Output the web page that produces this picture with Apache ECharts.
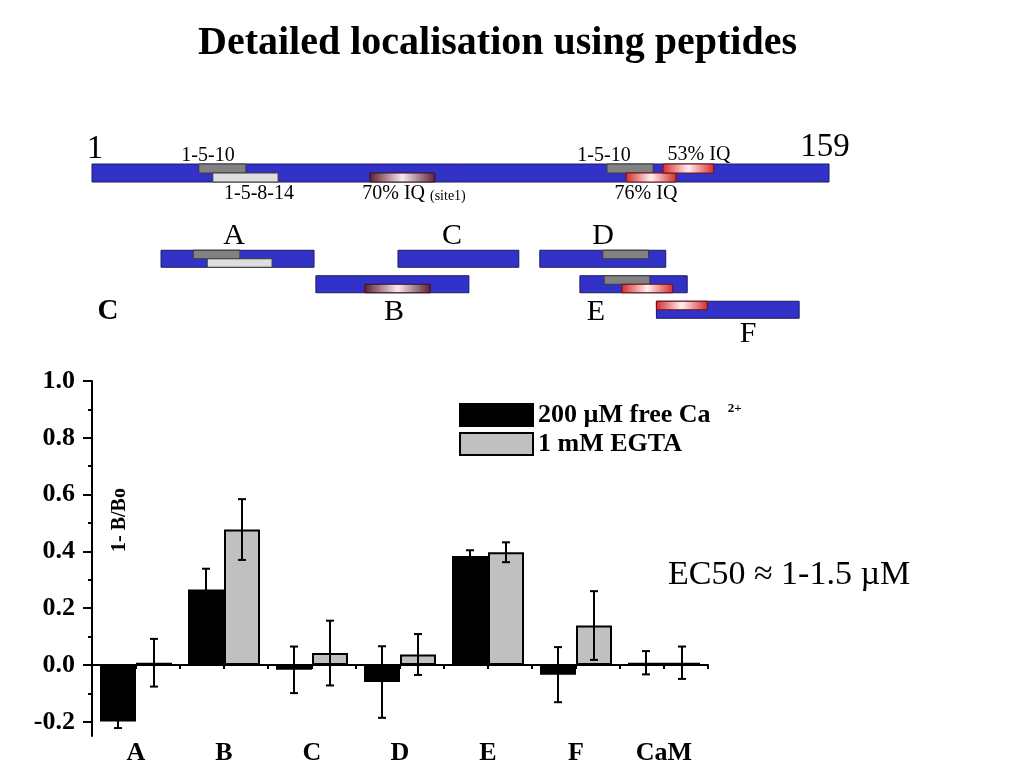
<!DOCTYPE html>
<html>
<head>
<meta charset="utf-8">
<script src="https://cdn.jsdelivr.net/npm/echarts@6/dist/echarts.min.js"></script>
<style>html,body{margin:0;padding:0;background:#fff}#c{width:1024px;height:768px}</style>
</head>
<body>
<div id="c"></div>
<script>
// ---------- data ----------
const categories = ['A', 'B', 'C', 'D', 'E', 'F', 'CaM'];
const caValues   = [-0.199, 0.266, -0.017, -0.060, 0.384, -0.034, 0.008];
const caErrors   = [0.023, 0.073, 0.082, 0.126, 0.020, 0.097, 0.041];
const egtaValues = [0.008, 0.477, 0.042, 0.037, 0.397, 0.139, 0.008];
const egtaErrors = [0.084, 0.107, 0.114, 0.072, 0.035, 0.121, 0.057];
const yLabelTicks = [-0.2, 0.0, 0.2, 0.4, 0.6, 0.8, 1.0];
const yMinorTicks = [-0.1, 0.1, 0.3, 0.5, 0.7, 0.9];

// protein map (residues 1..159)
const proteinLength = [1, 159];
// [label, start, end, lane, kind]
const proteinSites = [
  ['1-5-10',   23.9, 34.0, 'top',    'gray'],
  ['1-5-8-14', 26.9, 40.9, 'bottom', 'light'],
  ['70% IQ',   60.6, 74.5, 'bottom', 'iq70'],
  ['1-5-10',  111.4, 121.3, 'top',   'gray'],
  ['76% IQ',  115.5, 126.2, 'bottom', 'red'],
  ['53% IQ',  123.4, 134.3, 'top',   'red']
];
// peptides: [name, start, end, row]
const peptides = [
  ['A', 15.8, 48.6, 0],
  ['C', 66.6, 92.5, 0],
  ['D', 97.0, 124.0, 0],
  ['B', 49.0, 81.8, 1],
  ['E', 105.6, 128.6, 1],
  ['F', 122.0, 152.6, 2]
];
// peptide sites: [peptide, start, end, row, lane, kind]
const peptideSites = [
  ['A', 22.7, 32.7, 0, 'top',    'gray'],
  ['A', 25.7, 39.6, 0, 'bottom', 'light'],
  ['D', 110.5, 120.3, 0, 'top',  'gray'],
  ['B', 59.5, 73.5, 1, 'bottom', 'iq70'],
  ['E', 110.8, 120.6, 1, 'top',  'gray'],
  ['E', 114.6, 125.5, 1, 'bottom', 'red'],
  ['F', 122.0, 132.9, 2, 'top',  'red']
];

// ---------- styles ----------
const SERIF = '"Liberation Serif", "Times New Roman", serif';
function grad(edge, mid) {
  return new echarts.graphic.LinearGradient(0, 0, 1, 0, [
    {offset: 0, color: edge}, {offset: 0.5, color: mid}, {offset: 1, color: edge}
  ]);
}
const kindStyle = {
  blue:  {fill: '#3232c8', stroke: '#1c1c5a'},
  gray:  {fill: '#828282', stroke: '#3a3a3a'},
  light: {fill: '#dedede', stroke: '#3a3a3a'},
  iq70:  {fill: grad('#5e1e30', '#f6eaee'), stroke: '#3a1020'},
  red:   {fill: grad('#d42a2a', '#fff0f0'), stroke: '#701010'}
};

function laneOf(params) {
  if (params.seriesName === 'sites') return proteinSites[params.dataIndex][3];
  if (params.seriesName === 'pepsite') return peptideSites[params.dataIndex][4];
  return 'full';
}
function kindOf(params) {
  if (params.seriesName === 'sites') return proteinSites[params.dataIndex][4];
  if (params.seriesName === 'pepsite') return peptideSites[params.dataIndex][5];
  return 'blue';
}
function segRender(params, api) {
  const s = api.value(0), e = api.value(1), row = api.value(2);
  const lane = laneOf(params);
  const p0 = api.coord([s, row]);
  const p1 = api.coord([e, row]);
  const band = api.size([0, 1])[1];
  const isPep = params.seriesName === 'peptide' || params.seriesName === 'pepsite';
  const h = band * (isPep ? 0.667 : 1);
  let y0 = p0[1] - h / 2, y1 = p0[1] + h / 2;
  if (lane === 'top') y1 = p0[1];
  if (lane === 'bottom') y0 = p0[1];
  const st = kindStyle[kindOf(params)];
  return {
    type: 'rect',
    shape: {x: p0[0], y: y0, width: p1[0] - p0[0], height: y1 - y0},
    style: {fill: st.fill, stroke: st.stroke, lineWidth: 1}
  };
}

function errRender(offset) {
  return function (params, api) {
    const i = api.value(0), v = api.value(1), e = api.value(2);
    const top = api.coord([i, v + e]);
    const bot = api.coord([i, v - e]);
    const x = top[0] + offset;
    const cap = 4;
    const st = {stroke: '#000', lineWidth: 2};
    return {
      type: 'group',
      children: [
        {type: 'line', shape: {x1: x, y1: top[1], x2: x, y2: bot[1]}, style: st},
        {type: 'line', shape: {x1: x - cap, y1: top[1], x2: x + cap, y2: top[1]}, style: st},
        {type: 'line', shape: {x1: x - cap, y1: bot[1], x2: x + cap, y2: bot[1]}, style: st}
      ]
    };
  };
}

const caName = '200 µM free Ca2+';
const egtaName = '1 mM EGTA';

function txt(x, y, text, size, bold) {
  return {type: 'text', x: x, y: y, style: {
    text: text, font: (bold ? 'bold ' : '') + size + 'px ' + SERIF,
    fill: '#000', align: 'center', verticalAlign: 'middle'
  }};
}

const option = {
  backgroundColor: '#fff',
  animation: false,
  title: {
    text: 'Detailed localisation using peptides',
    left: 198, top: 24, padding: 0,
    textStyle: {fontFamily: SERIF, fontWeight: 'bold', fontSize: 40, color: '#000'}
  },
  legend: {
    left: 459, top: 402, orient: 'vertical', padding: 0,
    itemWidth: 73, itemHeight: 22, itemGap: 3,
    icon: 'rect',
    data: [caName, egtaName],
    formatter: function (name) {
      return name === caName ? '{m|200 µM free Ca}{s| 2+}' : '{m|' + name + '}';
    },
    textStyle: {
      fontFamily: SERIF, fontWeight: 'bold', fontSize: 26, color: '#000',
      rich: {
        m: {fontFamily: SERIF, fontWeight: 'bold', fontSize: 26, color: '#000', lineHeight: 26},
        s: {fontFamily: SERIF, fontWeight: 'bold', fontSize: 13, color: '#000', verticalAlign: 'top', lineHeight: 26, padding: [0, 0, 2, 14]}
      }
    }
  },
  grid: [
    {left: 92, right: 316, top: 381, bottom: 32},
    {left: 92, right: 195, top: 164, height: 18},
    {left: 92, right: 195, top: 246, height: 76.5}
  ],
  xAxis: [
    {
      type: 'category', gridIndex: 0, data: categories, position: 'bottom',
      axisLine: {show: false, onZero: false}, axisTick: {show: false},
      axisLabel: {margin: 4, fontFamily: SERIF, fontWeight: 'bold', fontSize: 26, color: '#000', interval: 0}
    },
    {
      type: 'category', gridIndex: 0, position: 'bottom',
      data: categories.flatMap(c => [c + '-1', c + '-2']),
      axisLine: {show: true, onZero: true, onZeroAxisIndex: 0, lineStyle: {color: '#000', width: 2}},
      axisTick: {show: true, interval: 0, length: 4, lineStyle: {color: '#000', width: 2}},
      axisLabel: {show: false}, splitLine: {show: false}
    },
    {type: 'value', gridIndex: 1, min: proteinLength[0], max: proteinLength[1], show: false},
    {type: 'value', gridIndex: 2, min: proteinLength[0], max: proteinLength[1], show: false}
  ],
  yAxis: [
    {
      type: 'value', gridIndex: 0, min: -0.25, max: 1.0,
      axisLine: {show: true, lineStyle: {color: '#000', width: 2}},
      axisTick: {show: true, length: 9, customValues: yLabelTicks, lineStyle: {color: '#000', width: 2}},
      axisLabel: {
        customValues: yLabelTicks, margin: 17,
        formatter: v => v.toFixed(1),
        fontFamily: SERIF, fontWeight: 'bold', fontSize: 26, color: '#000'
      },
      splitLine: {show: false}
    },
    {
      type: 'value', gridIndex: 0, min: -0.25, max: 1.0, position: 'left',
      axisLine: {show: false},
      axisTick: {show: true, length: 4, customValues: yMinorTicks, lineStyle: {color: '#000', width: 2}},
      axisLabel: {show: false}, splitLine: {show: false}
    },
    {type: 'category', gridIndex: 1, data: ['protein'], show: false},
    {type: 'category', gridIndex: 2, data: ['row1', 'row2', 'row3'], inverse: true, show: false}
  ],
  series: [
    {
      name: caName, type: 'bar', xAxisIndex: 0, yAxisIndex: 0,
      data: caValues, barWidth: 36, barGap: '0%',
      itemStyle: {color: '#000', borderColor: '#000', borderWidth: 2}
    },
    {
      name: egtaName, type: 'bar', xAxisIndex: 0, yAxisIndex: 0,
      data: egtaValues, barWidth: 36, barGap: '0%',
      itemStyle: {color: '#c0c0c0', borderColor: '#000', borderWidth: 2}
    },
    {
      name: 'errCa', type: 'custom', xAxisIndex: 0, yAxisIndex: 0, z: 5,
      renderItem: errRender(-18),
      data: caValues.map((v, i) => [i, v, caErrors[i]])
    },
    {
      name: 'errEgta', type: 'custom', xAxisIndex: 0, yAxisIndex: 0, z: 5,
      renderItem: errRender(18),
      data: egtaValues.map((v, i) => [i, v, egtaErrors[i]])
    },
    {
      name: 'protein', type: 'custom', xAxisIndex: 2, yAxisIndex: 2,
      renderItem: segRender, encode: {x: [0, 1], y: 2},
      data: [[proteinLength[0], proteinLength[1], 0]]
    },
    {
      name: 'sites', type: 'custom', xAxisIndex: 2, yAxisIndex: 2, z: 3,
      renderItem: segRender, encode: {x: [0, 1], y: 2},
      data: proteinSites.map(d => [d[1], d[2], 0])
    },
    {
      name: 'peptide', type: 'custom', xAxisIndex: 3, yAxisIndex: 3,
      renderItem: segRender, encode: {x: [0, 1], y: 2},
      data: peptides.map(d => [d[1], d[2], d[3]])
    },
    {
      name: 'pepsite', type: 'custom', xAxisIndex: 3, yAxisIndex: 3, z: 3,
      renderItem: segRender, encode: {x: [0, 1], y: 2},
      data: peptideSites.map(d => [d[1], d[2], d[3]])
    }
  ],
  graphic: [
    txt(95, 149, '1', 33),
    txt(825, 147, '159', 33),
    txt(208, 156, '1-5-10', 20),
    txt(259, 194, '1-5-8-14', 20),
    {type: 'text', x: 414, y: 194, style: {
      text: '{a|70% IQ }{b|(site1)}', align: 'center', verticalAlign: 'middle',
      rich: {a: {fontFamily: SERIF, fontSize: 20, fill: '#000'}, b: {fontFamily: SERIF, fontSize: 14, fill: '#000', padding: [4, 0, 0, 0]}}
    }},
    txt(604, 156, '1-5-10', 20),
    txt(699, 155, '53% IQ', 20),
    txt(646, 194, '76% IQ', 20),
    txt(234, 236, 'A', 30),
    txt(452, 236, 'C', 30),
    txt(603, 236, 'D', 30),
    txt(394, 312, 'B', 30),
    txt(596, 312, 'E', 30),
    txt(748, 334, 'F', 30),
    txt(108, 312, 'C', 29, true),
    {type: 'text', x: 668, y: 575, style: {text: 'EC50 ≈ 1-1.5 µM', font: '34px ' + SERIF, fill: '#000', align: 'left', verticalAlign: 'middle'}},
    {type: 'text', x: 120, y: 520, rotation: Math.PI / 2, style: {text: '1- B/Bo', font: 'bold 20px ' + SERIF, fill: '#000', align: 'center', verticalAlign: 'middle'}}
  ]
};

const chart = echarts.init(document.getElementById('c'), null, {renderer: 'canvas'});
chart.setOption(option);
</script>
</body>
</html>
